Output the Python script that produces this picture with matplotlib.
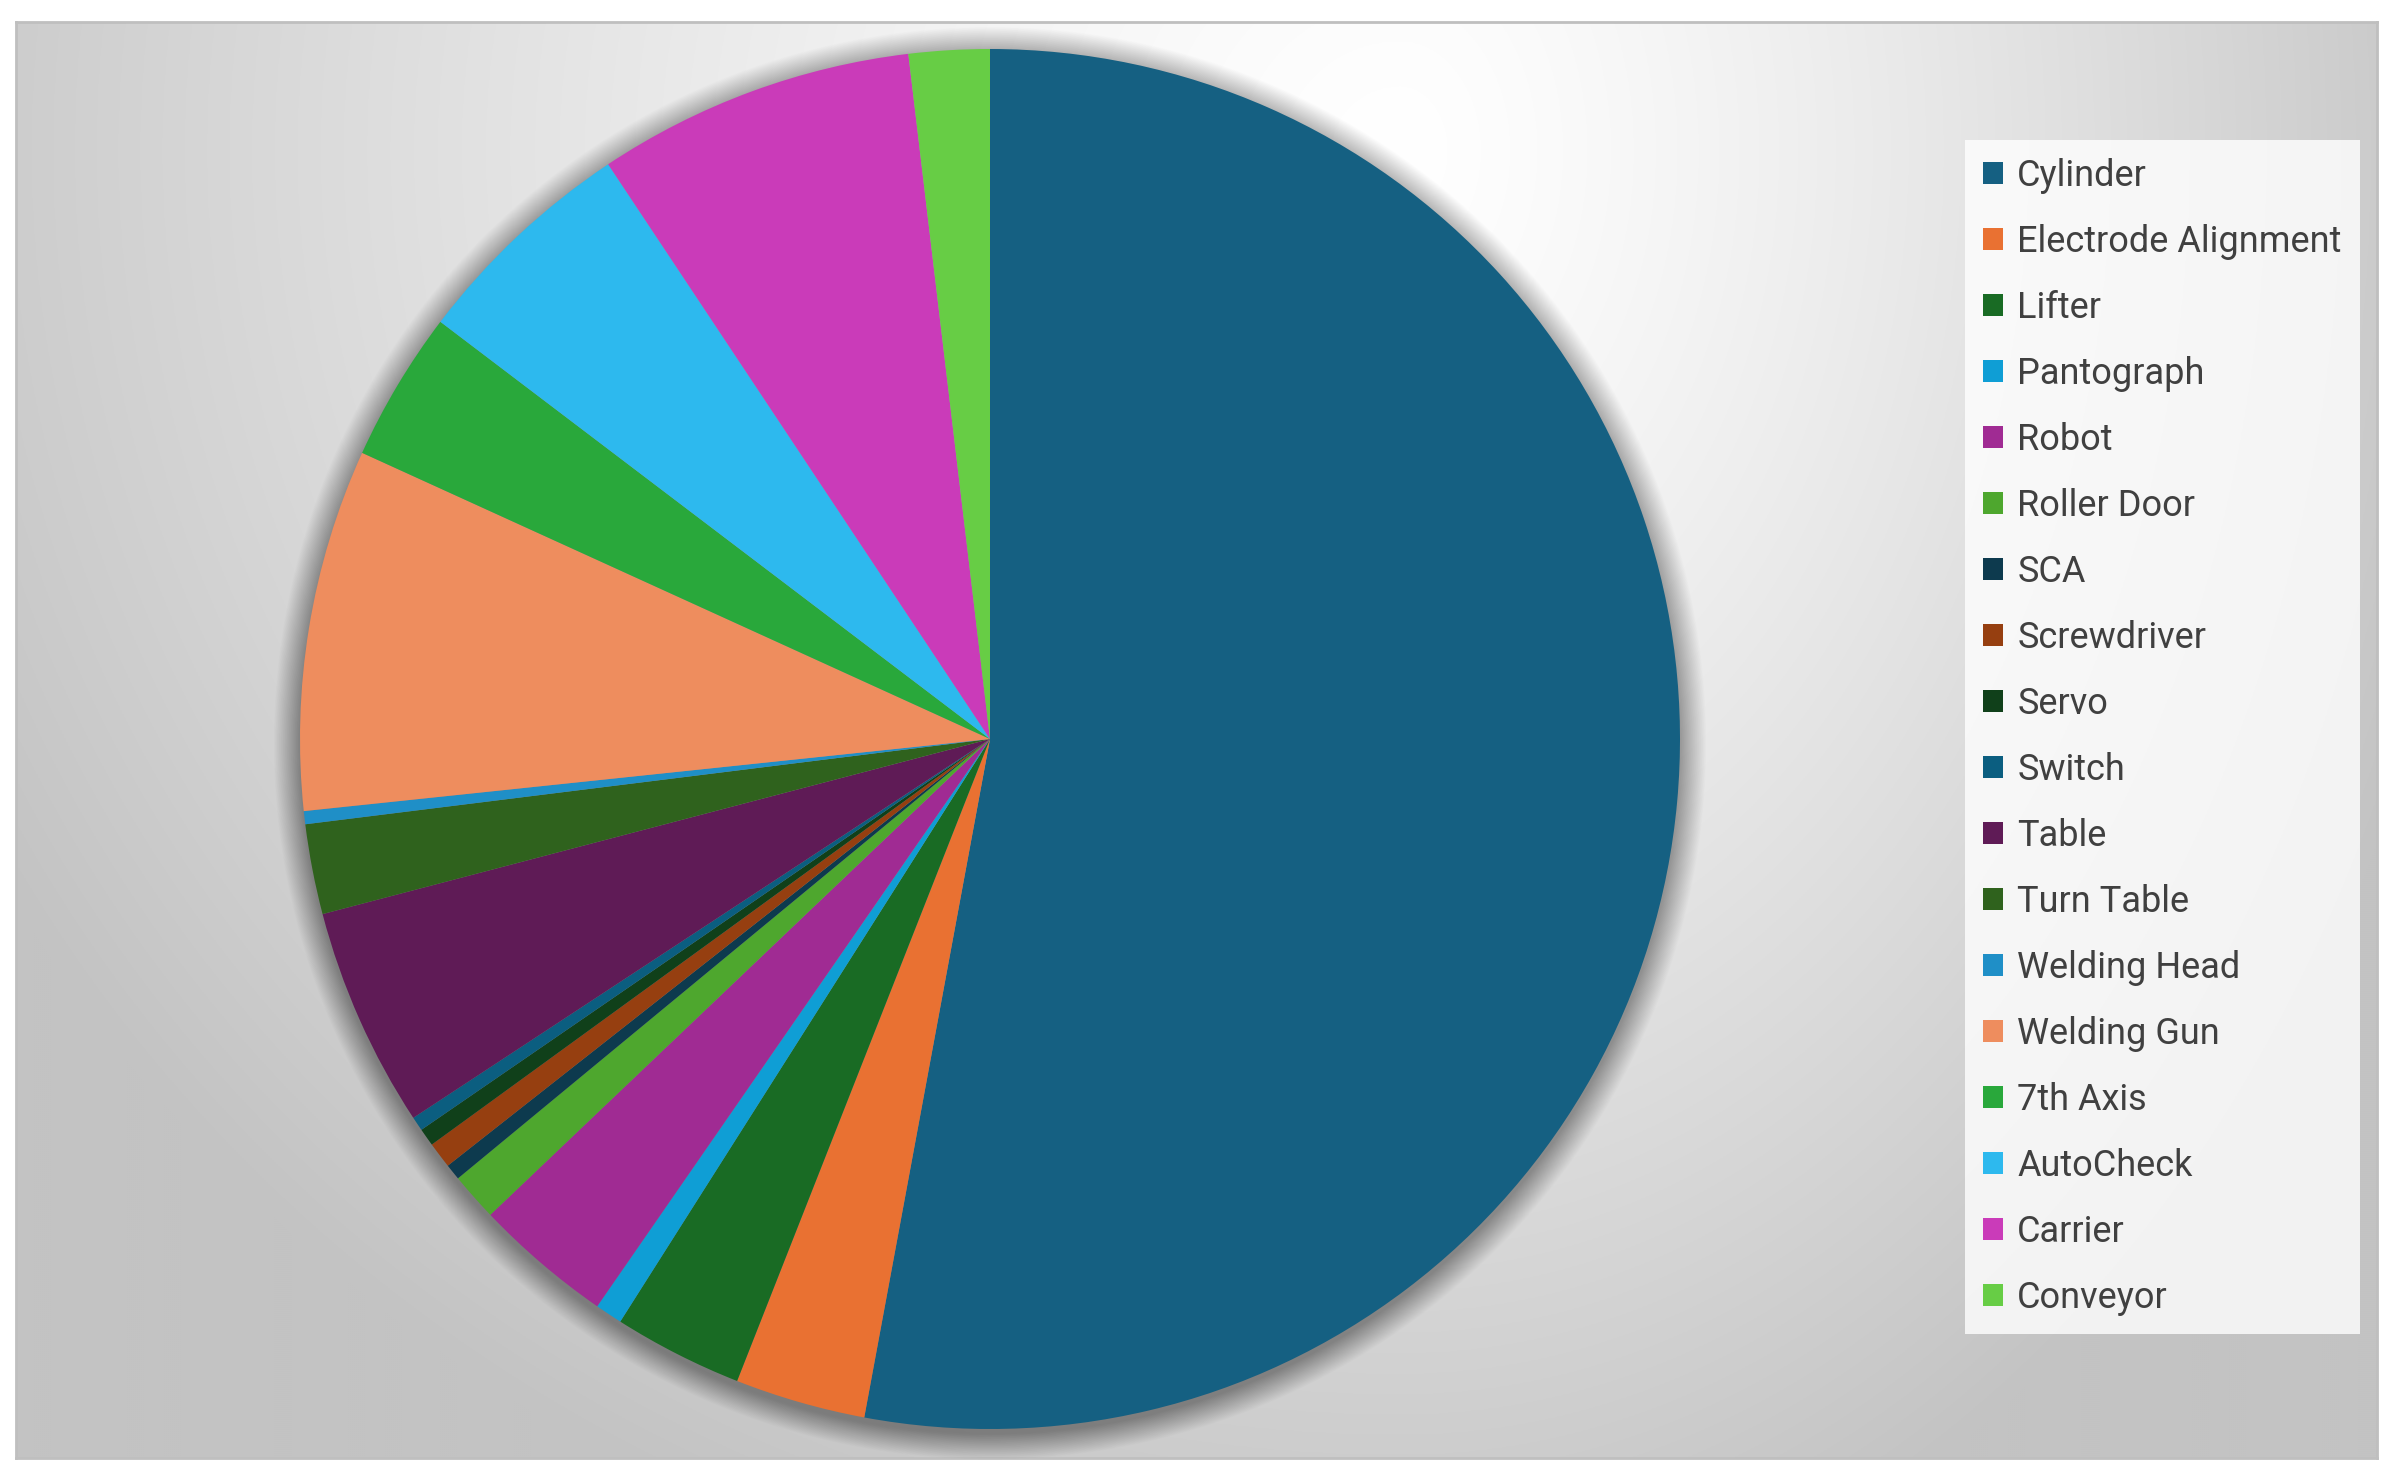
import matplotlib
matplotlib.use("Agg")
import matplotlib.pyplot as plt
import numpy as np
from matplotlib.patches import Circle

plt.rcParams['font.family'] = ['Liberation Sans Narrow', 'Roboto', 'DejaVu Sans']

# share of each category (in degrees of the circle)
categories = ['Cylinder', 'Electrode Alignment', 'Lifter', 'Pantograph', 'Robot',
              'Roller Door', 'SCA', 'Screwdriver', 'Servo', 'Switch', 'Table',
              'Turn Table', 'Welding Head', 'Welding Gun', '7th Axis', 'AutoCheck',
              'Carrier', 'Conveyor']
values = [190.5, 11.0, 10.9, 2.3, 11.7, 4.05, 1.35, 2.2, 1.5, 1.2, 18.6,
          7.6, 1.1, 30.5, 12.7, 19.2, 26.8, 6.8]
colors = ['#156082', '#E97132', '#196B24', '#0F9ED5', '#A02B93', '#4EA72E',
          '#0D3A4E', '#963F10', '#10401A', '#0B5E80', '#5F1B56', '#2F621D',
          '#1F8FC7', '#EE8D5E', '#29A83B', '#2DB9EE', '#CA3BB9', '#67CD45']

W, H = 2394, 1476
fig = plt.figure(figsize=(W / 100, H / 100), dpi=100)
fig.patch.set_facecolor('white')

# chart area with a soft radial gradient (white near the top, grey at the edges)
fx0, fy0, fx1, fy1 = 16, 22, 2377, 1458
bg = fig.add_axes([fx0 / W, 1 - fy1 / H, (fx1 - fx0) / W, (fy1 - fy0) / H])
gx, gy = np.meshgrid(np.arange(fx0, fx1, 2), np.arange(fy0, fy1, 2))
gcx, gcy = 1400, 150
ax_scale = np.where(gx < gcx, 1600.0, 1100.0)
t = np.sqrt(((gx - gcx) / ax_scale) ** 2 + ((gy - gcy) / 1500.0) ** 2)
shade = np.clip(255 - 60 * t ** 1.3, 195, 255) / 255.0
img = np.dstack([shade, shade, shade])
bg.imshow(img, aspect='auto', extent=[0, 1, 0, 1], origin='upper')
bg.set_xlim(0, 1)
bg.set_ylim(0, 1)
bg.set_xticks([])
bg.set_yticks([])
for s in bg.spines.values():
    s.set_color('#BFBFBF')
    s.set_linewidth(2)

# pie
cx, cy, r = 990, 739, 690
pad = 40
ax = fig.add_axes([(cx - r - pad) / W, (H - cy - r - pad) / H,
                   2 * (r + pad) / W, 2 * (r + pad) / H])
ax.patch.set_alpha(0)

# soft shadow around the pie
n = 40
for i in range(n):
    ax.add_patch(Circle((0, -0.006), 1 + 0.038 * (i + 1) / n, color='black',
                        alpha=0.008, lw=0, zorder=0))

wedges, _ = ax.pie(values, colors=colors, startangle=90, counterclock=False,
                   radius=1, wedgeprops=dict(linewidth=0))
for w in wedges:
    w.set_zorder(2)

lim = (r + pad) / r
ax.set_xlim(-lim, lim)
ax.set_ylim(-lim, lim)
ax.set_aspect('equal')
ax.axis('off')

leg = ax.legend(wedges, categories, loc='upper left',
                bbox_to_anchor=(1965 / W, 1 - 140 / H), bbox_transform=fig.transFigure,
                borderaxespad=0, fontsize=26, frameon=True, fancybox=False,
                handlelength=0.55, handleheight=0.55, handletextpad=0.4,
                labelspacing=0.83, borderpad=0.5)
leg.get_frame().set_facecolor((1, 1, 1, 0.25))
leg.get_frame().set_edgecolor('none')
for txt in leg.get_texts():
    txt.set_color('#404040')

fig.savefig('out.png', dpi=100, facecolor='white')
